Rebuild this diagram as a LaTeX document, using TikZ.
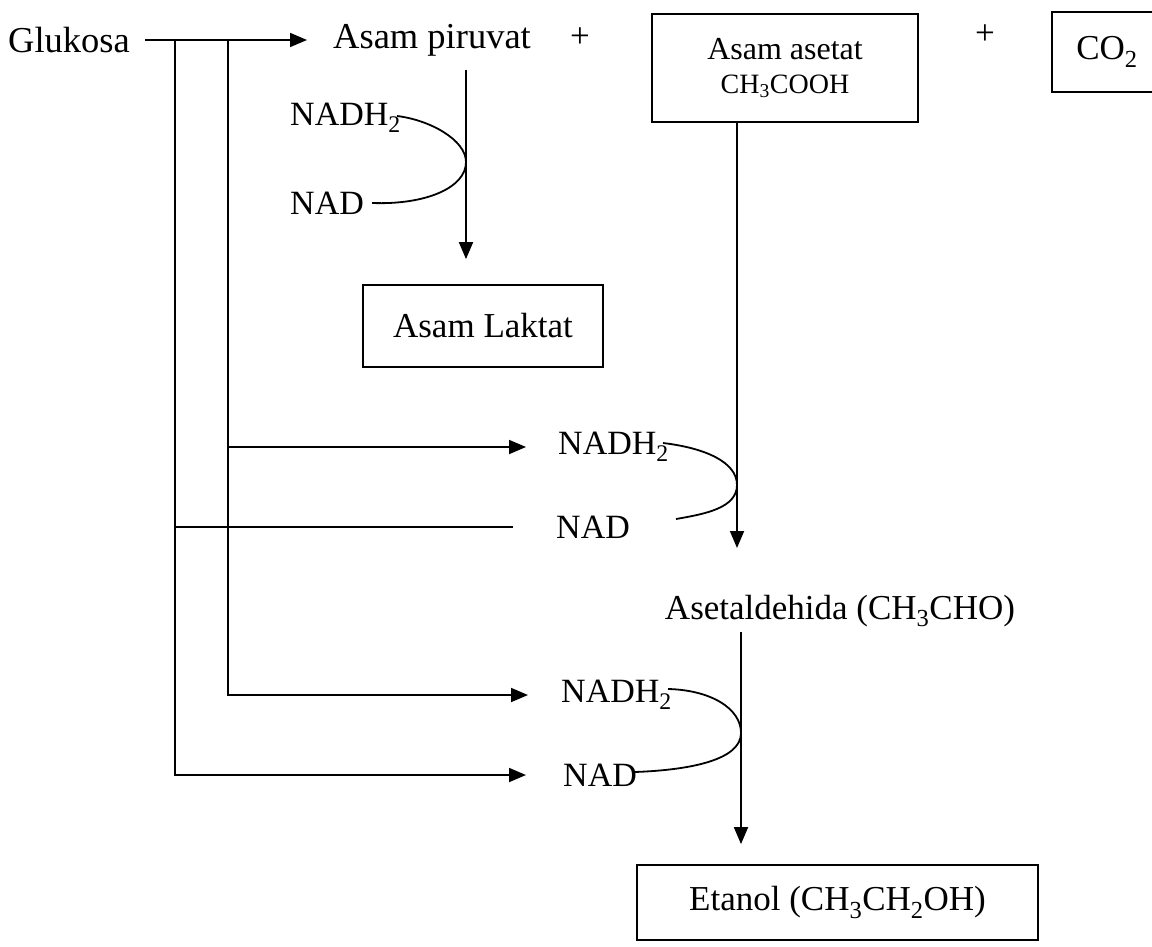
\documentclass[tikz,border=0pt]{standalone}
\usepackage{fontspec}
\setmainfont{Liberation Serif}
\usetikzlibrary{arrows.meta}
\newcommand{\sbs}[1]{\textsubscript{#1}}
\begin{document}
\begin{tikzpicture}[x=1pt,y=-1pt,
  every node/.style={font=\fontsize{35}{40}\selectfont, inner sep=0pt},
  big/.style={font=\fontsize{36.5}{42}\selectfont},
  small/.style={font=\fontsize{34}{40}\selectfont},
  lbl/.style={anchor=west, small},
  box/.style={draw, line width=1.8pt, align=center},
  ln/.style={line width=1.8pt},
  arr/.style={line width=1.8pt, -{Triangle[length=17pt,width=14pt]}}]
\useasboundingbox (0,0) rectangle (1152,947);
% texts
\node[anchor=west, big] (glu) at (8,40) {Glukosa};
\node[anchor=west, big] (pir) at (333,40) {Asam piruvat};
\node (plus1) at (580,38) {+};
\node[box, minimum width=266pt, minimum height=108pt, font=\fontsize{32}{38}\selectfont] (aset) at (785,68)
  {Asam asetat\\[-4pt]{\fontsize{28}{32}\selectfont CH\sbs{3}COOH}};
\node (plus2) at (985,35) {+};
\node[box, minimum width=110pt, minimum height=80pt, text width=100pt] (co2) at (1107,52) {CO\sbs{2}};
\node[lbl] (nadh1) at (290,118) {NADH\sbs{2}};
\node[lbl] (nad1) at (290,203) {NAD};
\node[box, minimum width=240pt, minimum height=82pt] (lak) at (483,326) {Asam Laktat};
\node[lbl] (nadh2) at (558,447) {NADH\sbs{2}};
\node[lbl] (nad2) at (556,527) {NAD};
\node (ald) at (840,611) {Asetaldehida (CH\sbs{3}CHO)};
\node[lbl] (nadh3) at (561,695) {NADH\sbs{2}};
\node[lbl] (nad3) at (563,775) {NAD};
\node[box, minimum width=401pt, minimum height=75pt] (eta) at (837.5,902.5) {Etanol (CH\sbs{3}CH\sbs{2}OH)};
% junctions
\coordinate (j1) at (175,41);
\coordinate (j2) at (228,41);
\coordinate (p1) at (466,70);
\coordinate (a1) at (737,122);
\coordinate (a2) at (737,548);
\coordinate (b1) at (741,632);
% main arrow
\draw[arr, shorten <=15pt, shorten >=26pt] (glu.east) -- (pir.west);
% left branches
\draw[arr, shorten >=37pt] (j1) |- (nad3.west);
\draw[arr, shorten >=33pt] (j2) |- (nadh3.west);
\draw[arr, shorten >=32pt] (j2 |- nadh2.west) -- (nadh2.west);
\draw[ln, shorten >=43pt] (j1 |- nad2.west) -- (nad2.west);
% vertical arrows
\draw[arr, shorten >=25pt] (p1) -- (p1 |- lak.north);
\draw[arr] (a1) -- (a2);
\draw[arr, shorten >=20pt] (b1) -- (b1 |- eta.north);
% cofactor curves
\draw[ln] ([xshift=-4pt,yshift=2pt]nadh1.east) .. controls (430,120) and (466,140) .. (466,162)
  .. controls (466,188) and (425,205) .. ([xshift=8pt]nad1.east);
\draw[ln] ([xshift=-6pt,yshift=4pt]nadh2.east) .. controls (705,448) and (737,462) .. (737,485)
  .. controls (737,508) and (705,514) .. ([xshift=46pt,yshift=8pt]nad2.east);
\draw[ln] ([xshift=-4pt,yshift=6pt]nadh3.east) .. controls (710,690) and (741,708) .. (741,733)
  .. controls (741,760) and (690,770) .. ([xshift=-2pt,yshift=3pt]nad3.east);
\end{tikzpicture}
\end{document}
